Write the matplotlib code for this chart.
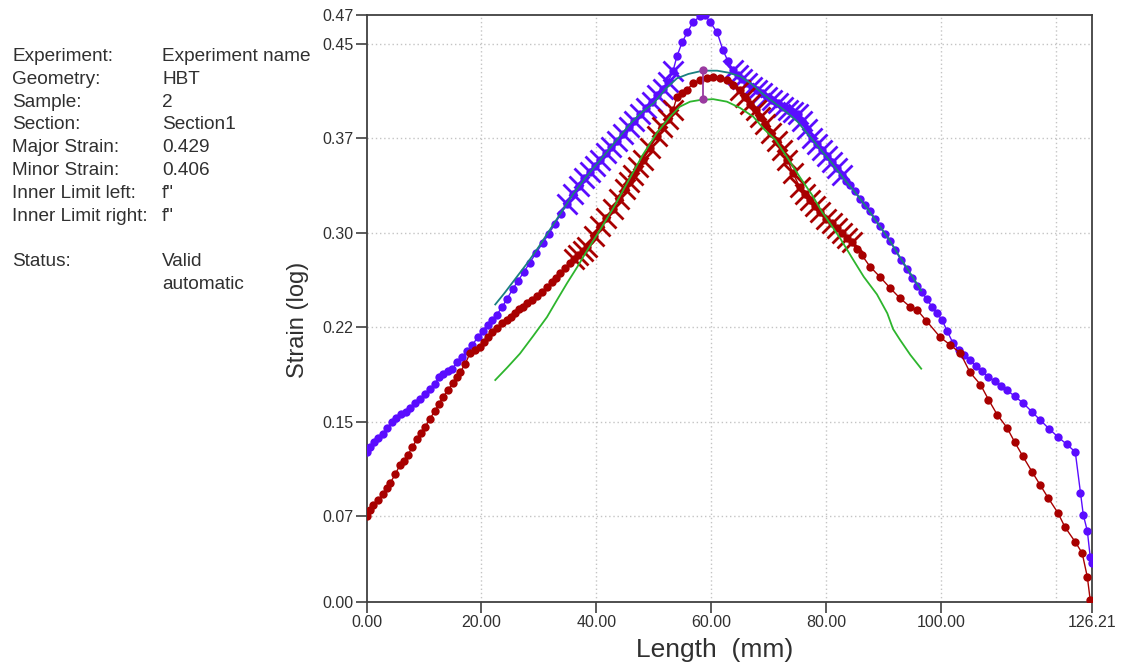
import math
import matplotlib
matplotlib.use("Agg")
import matplotlib.pyplot as plt

plt.rcParams['font.family'] = ['Liberation Sans', 'DejaVu Sans']

# === Data ===
major_x = [0.0, 0.6, 1.3, 2.0, 2.9, 3.6, 4.4, 5.2, 6.0, 6.8, 7.6, 8.5, 9.3, 10.2, 11.0, 11.9,
           12.6, 13.3, 14.1, 14.9, 15.8, 16.6, 17.5, 18.4, 19.4, 20.2, 21.1, 21.9, 22.7, 23.6,
           24.4, 25.4, 26.4, 27.4, 28.4, 29.5, 30.7, 31.7, 32.8, 33.8, 34.9, 35.9, 36.9, 37.9,
           38.8, 39.8, 40.7, 41.6, 42.6, 43.6, 44.6, 45.6, 46.6, 47.6, 48.6, 49.6, 50.6, 51.6,
           52.5, 53.3, 54.0, 54.9, 55.8, 56.8, 58.0, 58.9, 59.8, 61.0, 62.0, 62.9, 63.8, 64.6,
           65.4, 66.2, 67.0, 67.9, 68.8, 69.7, 70.6, 71.6, 72.5, 73.3, 74.2, 75.0, 75.8, 76.6,
           77.5, 78.4, 79.2, 80.1, 81.0, 81.9, 82.7, 83.5, 84.1, 85.0, 85.9, 86.8, 87.6, 88.5,
           89.3, 90.2, 91.1, 92.0, 93.0, 94.0, 94.9, 95.8, 96.6, 97.5, 98.4, 99.2, 100.1, 101.0,
           102.0, 103.0, 104.0, 105.0, 106.1, 107.1, 108.2, 109.3, 110.3, 111.4, 112.8, 114.2,
           115.7, 117.2, 118.8, 120.3, 121.8, 123.3, 124.2, 124.7, 125.4, 125.9, 126.21]
major_y = [0.126, 0.130, 0.134, 0.137, 0.140, 0.145, 0.150, 0.153, 0.156, 0.158, 0.161, 0.165,
           0.168, 0.172, 0.176, 0.180, 0.185, 0.188, 0.190, 0.192, 0.197, 0.201, 0.206, 0.211,
           0.217, 0.222, 0.227, 0.231, 0.235, 0.241, 0.247, 0.255, 0.262, 0.269, 0.276, 0.284,
           0.292, 0.299, 0.307, 0.315, 0.323, 0.331, 0.337, 0.343, 0.348, 0.353, 0.358, 0.363,
           0.368, 0.373, 0.378, 0.384, 0.389, 0.394, 0.399, 0.404, 0.409, 0.414, 0.420, 0.428,
           0.440, 0.451, 0.459, 0.467, 0.4718, 0.4726, 0.467, 0.459, 0.445, 0.436, 0.429, 0.425,
           0.422, 0.419, 0.416, 0.413, 0.411, 0.408, 0.405, 0.403, 0.400, 0.397, 0.396, 0.394,
           0.389, 0.382, 0.375, 0.370, 0.366, 0.361, 0.356, 0.351, 0.346, 0.341, 0.338, 0.333,
           0.327, 0.322, 0.317, 0.311, 0.305, 0.299, 0.293, 0.286, 0.278, 0.271, 0.264, 0.258,
           0.253, 0.247, 0.241, 0.236, 0.231, 0.222, 0.2126, 0.207, 0.203, 0.1985, 0.194, 0.190,
           0.1854, 0.182, 0.178, 0.1751, 0.170, 0.1648, 0.158, 0.1513, 0.144, 0.1378, 0.132,
           0.1259, 0.0933, 0.0758, 0.0631, 0.0425, 0.038]

minor_x = [0.0, 0.6, 1.1, 2.0, 2.9, 3.5, 4.1, 5.0, 5.8, 6.5, 7.2, 8.0, 8.8, 9.5, 10.2, 11.0,
           11.9, 12.6, 13.3, 14.2, 15.0, 15.7, 16.3, 17.2, 18.0, 18.9, 19.7, 20.4, 21.1, 21.9,
           22.7, 23.6, 24.4, 25.1, 25.8, 26.5, 27.2, 28.0, 28.8, 29.6, 30.5, 31.4, 32.3, 33.0,
           33.7, 34.6, 35.4, 36.1, 36.8, 37.6, 38.4, 39.5, 40.6, 41.7, 42.9, 44.0, 45.0, 45.7,
           46.4, 47.2, 48.1, 49.3, 50.5, 51.4, 52.4, 53.3, 54.0, 54.9, 55.8, 56.8, 58.0, 59.2,
           60.3, 61.5, 62.7, 63.8, 65.0, 65.9, 66.8, 67.7, 68.5, 69.4, 70.4, 71.4, 72.3, 73.2,
           74.2, 75.4, 76.3, 77.2, 78.0, 78.9, 80.0, 81.0, 81.9, 82.7, 83.6, 84.5, 85.4, 86.2,
           87.6, 89.3, 91.1, 92.8, 94.6, 95.8, 97.4, 99.8, 101.5, 103.3, 105.0, 106.8, 108.2,
           109.7, 111.4, 112.8, 114.2, 115.8, 117.2, 118.6, 120.3, 121.5, 123.3, 124.5, 125.4,
           125.9, 126.21]
minor_y = [0.075, 0.080, 0.0838, 0.088, 0.0925, 0.097, 0.1012, 0.108, 0.1155, 0.119, 0.1235,
           0.130, 0.1362, 0.141, 0.1457, 0.152, 0.1584, 0.164, 0.1695, 0.175, 0.1806, 0.185,
           0.1893, 0.196, 0.2044, 0.207, 0.2092, 0.213, 0.2171, 0.221, 0.2243, 0.228, 0.2306,
           0.233, 0.2362, 0.239, 0.2410, 0.244, 0.2465, 0.250, 0.2529, 0.257, 0.2608, 0.264,
           0.2680, 0.272, 0.2759, 0.279, 0.2822, 0.2855, 0.2886, 0.297, 0.305, 0.312, 0.319,
           0.327, 0.335, 0.340, 0.346, 0.352, 0.358, 0.367, 0.377, 0.384, 0.390, 0.397, 0.4077,
           0.411, 0.4133, 0.4188, 0.4212, 0.4228, 0.4236, 0.4228, 0.4212, 0.4172, 0.413, 0.408,
           0.402, 0.397, 0.392, 0.386, 0.379, 0.373, 0.366, 0.358, 0.347, 0.336, 0.331, 0.326,
           0.321, 0.316, 0.311, 0.3077, 0.304, 0.2997, 0.296, 0.2925, 0.287, 0.282, 0.273, 0.265,
           0.256, 0.248, 0.241, 0.2386, 0.230, 0.217, 0.211, 0.2044, 0.189, 0.1794, 0.1675,
           0.1556, 0.1453, 0.1334, 0.1223, 0.110, 0.0996, 0.0893, 0.0774, 0.0663, 0.0544,
           0.0456, 0.0266, 0.0083, 0.007]

# fitted curves (major = teal, minor = green)
major_fit_x = [22.4, 24.0, 26.0, 28.0, 30.0, 32.0, 34.0, 36.0, 38.0, 40.0, 42.0, 44.0, 46.0,
               48.0, 50.0, 52.0, 54.0, 56.0, 58.5, 61.0, 63.0, 65.0, 67.0, 69.0, 71.0, 73.0,
               75.0, 77.0, 79.0, 81.0, 83.0, 85.0, 87.0, 89.0, 91.0, 93.0, 95.0, 96.5]
major_fit_y = [0.243, 0.252, 0.264, 0.276, 0.289, 0.303, 0.317, 0.331, 0.343, 0.354, 0.365,
               0.376, 0.387, 0.396, 0.403, 0.414, 0.4225, 0.426, 0.4286, 0.4286, 0.427, 0.424,
               0.418, 0.410, 0.403, 0.396, 0.388, 0.377, 0.366, 0.355, 0.343, 0.332, 0.320,
               0.307, 0.294, 0.279, 0.265, 0.254]
minor_fit_x = [22.4, 24.5, 26.7, 29.0, 31.4, 33.2, 34.9, 36.7, 38.4, 40.6, 43.0, 45.3, 48.1,
               50.5, 52.8, 54.5, 56.3, 58.0, 60.3, 62.7, 65.0, 67.3, 69.2, 71.1, 73.0, 75.4,
               77.5, 79.3, 80.1, 82.4, 84.6, 86.5, 88.8, 90.6, 91.6, 92.8, 94.6, 96.5]
minor_fit_y = [0.183, 0.193, 0.204, 0.218, 0.233, 0.247, 0.260, 0.273, 0.286, 0.302, 0.320,
               0.339, 0.362, 0.379, 0.392, 0.400, 0.404, 0.4053, 0.406, 0.404, 0.399, 0.392,
               0.382, 0.3738, 0.361, 0.344, 0.330, 0.316, 0.311, 0.2955, 0.279, 0.265, 0.251,
               0.236, 0.2235, 0.215, 0.203, 0.192]

# windows where the points carry the cross symbols
major_cross_ranges = [(34.5, 53.3), (63.8, 83.0)]
minor_cross_ranges = [(36.0, 53.3), (65.0, 84.5)]

section_x = 58.5
major_strain = 0.429
minor_strain = 0.406

x_max = 126.21
y_min, y_max = 0.007, 0.4728
x_ticks = [0, 20, 40, 60, 80, 100]
y_ticks = [0.075, 0.15, 0.225, 0.30, 0.375, 0.45]

info_labels = ['Experiment:', 'Geometry:', 'Sample:', 'Section:', 'Major Strain:',
               'Minor Strain:', 'Inner Limit left:', 'Inner Limit right:', '', 'Status:', '']
info_values = ['Experiment name', 'HBT', '2', 'Section1', '0.429', '0.406', 'f"', 'f"', '',
               'Valid', 'automatic']

BLUE = '#5a0cff'
RED = '#a80000'
TEAL = '#1a8080'
GREEN = '#2db52d'
PURPLE = '#9a3aa0'
TXT = '#303030'


def trunc2(v):
    return '%.2f' % (math.floor(v * 100 + 1e-9) / 100)


def in_ranges(x, ranges):
    return any(a <= x <= b for a, b in ranges)


fig = plt.figure(figsize=(11.26, 6.68), dpi=100)
ax = fig.add_axes([366.5 / 1126, 1 - 601.7 / 668, (1092 - 366.5) / 1126, (601.7 - 15) / 668])

# point series
ax.plot(major_x, major_y, color=BLUE, lw=1, marker='o', ms=6, mew=0, zorder=3)
ax.plot(minor_x, minor_y, color=RED, lw=1, marker='o', ms=6, mew=0, zorder=4)

bx = [x for x in major_x if in_ranges(x, major_cross_ranges)]
by = [y for x, y in zip(major_x, major_y) if in_ranges(x, major_cross_ranges)]
rx = [x for x in minor_x if in_ranges(x, minor_cross_ranges)]
ry = [y for x, y in zip(minor_x, minor_y) if in_ranges(x, minor_cross_ranges)]
ax.plot(bx, by, ls='none', marker='x', ms=14, mew=2, color=BLUE, zorder=3)
ax.plot(rx, ry, ls='none', marker='x', ms=14, mew=2, color=RED, zorder=4)

# fitted curves
ax.plot(major_fit_x, major_fit_y, color=TEAL, lw=1.3, zorder=5)
ax.plot(minor_fit_x, minor_fit_y, color=GREEN, lw=1.3, zorder=5)

# section marker between major and minor strain
ax.plot([section_x, section_x], [minor_strain, major_strain], color=PURPLE, lw=1.3,
        marker='o', ms=6, mew=0, zorder=6)

# axes
ax.set_xlim(0, x_max)
ax.set_ylim(y_min, y_max)
ax.set_xticks(x_ticks + [x_max])
ax.set_xticklabels(['%.2f' % v for v in x_ticks] + ['%.2f' % x_max])
ax.set_xticks([120], minor=True)
ax.set_yticks([y_min] + y_ticks + [y_max])
ax.set_yticklabels([trunc2(v) for v in [y_min] + y_ticks + [y_max]])
ax.tick_params(axis='both', which='major', direction='out', length=8, width=1.2,
               color='#404040', labelsize=11.5, labelcolor=TXT, pad=1.5)
ax.tick_params(axis='x', which='minor', length=0)

for v in x_ticks[1:] + [120]:
    ax.axvline(v, color='#c4c4c4', lw=1, ls=(0, (1, 2)), zorder=1)
for v in y_ticks:
    ax.axhline(v, color='#c4c4c4', lw=1, ls=(0, (1, 2)), zorder=1)

for s in ax.spines.values():
    s.set_color('#404040')
    s.set_linewidth(1.3)

fig.text(715 / 1126, 1 - 650 / 668, 'Length  (mm)', ha='center', va='center',
         fontsize=19, color=TXT)
fig.text(298 / 1126, 1 - 320 / 668, 'Strain (log)', ha='center', va='center',
         rotation=90, fontsize=17, color=TXT)

# info block on the left
for i, (lab, val) in enumerate(zip(info_labels, info_values)):
    yb = 1 - (61 + 22.8 * i) / 668
    fig.text(12 / 1126, yb, lab, ha='left', va='baseline', fontsize=13.7, color=TXT)
    fig.text(162 / 1126, yb, val, ha='left', va='baseline', fontsize=13.7, color=TXT)

fig.savefig('out.png', dpi=100)
